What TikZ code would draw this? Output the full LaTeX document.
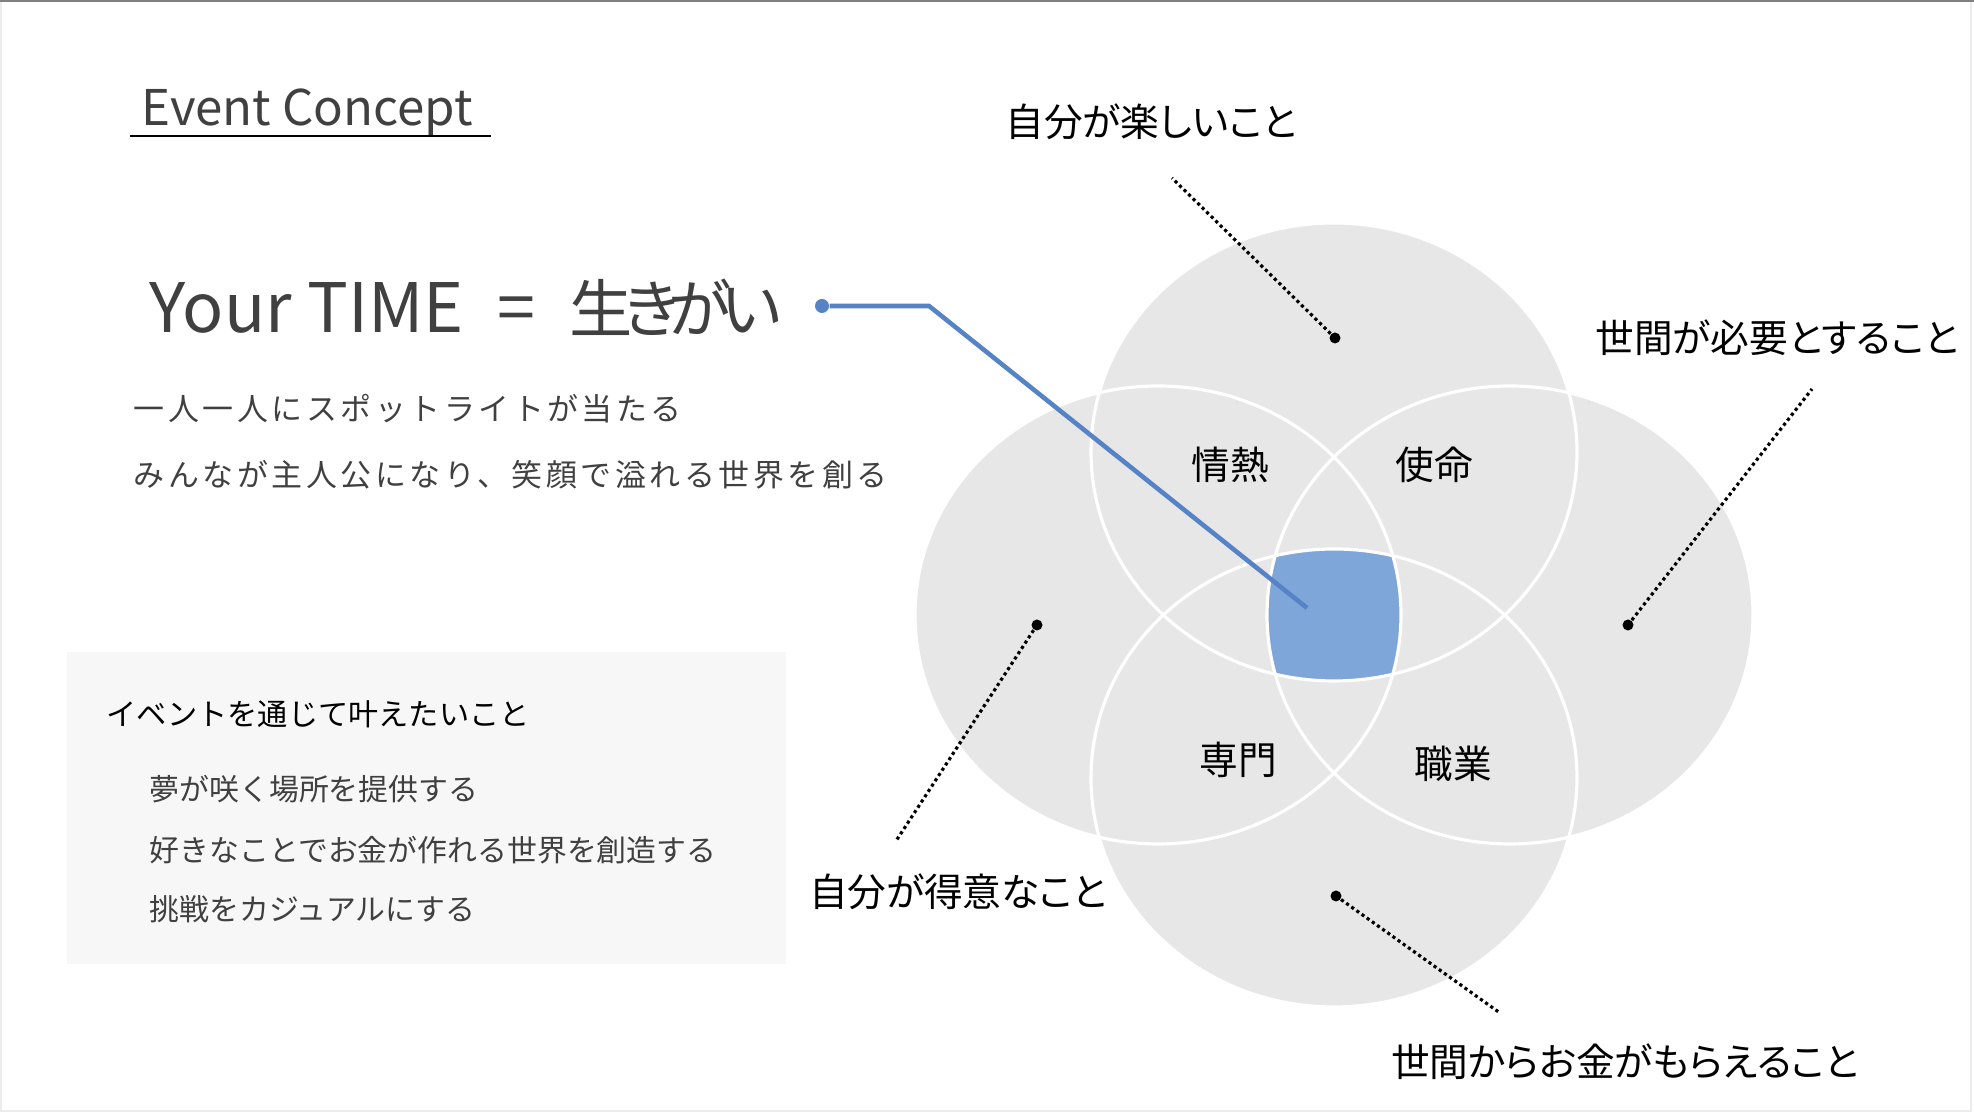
\documentclass[tikz,border=0pt]{standalone}
\usepackage{fontspec}
\setmainfont{Noto Sans CJK JP}
\newfontfamily\jpprop[RawFeature=+palt]{Noto Sans CJK JP}
\newfontfamily\jptight[RawFeature=+palt,LetterSpace=-15]{Noto Sans CJK JP}
\newfontfamily\jpspaced[LetterSpace=11.5]{Noto Sans CJK JP}
\usepackage{tikz}
\usetikzlibrary{calc}
\definecolor{petalgray}{RGB}{231,231,231}
\definecolor{boxgray}{RGB}{247,247,247}
\definecolor{framegray}{RGB}{236,236,236}
\definecolor{heartblue}{RGB}{127,166,216}
\definecolor{linkblue}{RGB}{86,131,198}
\definecolor{textgray}{RGB}{64,64,64}
\tikzstyle{petal}=[fill=petalgray]
\tikzstyle{petaledge}=[draw=white,line width=0.9pt]
\tikzstyle{titlenode}=[textgray,inner sep=0pt,font=\fontsize{14}{17}\selectfont]
\tikzstyle{slogannode}=[textgray,inner sep=0pt,font=\fontsize{19.4}{23}\selectfont]
\tikzstyle{bodynode}=[textgray,inner sep=0pt,font=\jpspaced\fontsize{8.8}{11}\selectfont]
\tikzstyle{wishhead}=[black,inner sep=0pt,font=\fontsize{8.6}{11}\selectfont]
\tikzstyle{wishnode}=[textgray,inner sep=0pt,font=\fontsize{8.5}{11}\selectfont]
\tikzstyle{outernode}=[black,inner sep=0pt,font=\jpprop\fontsize{11}{14}\selectfont]
\tikzstyle{innernode}=[black,inner sep=0pt,font=\fontsize{11}{13}\selectfont]
\tikzstyle{pindot}=[shape=circle,fill=black,inner sep=0pt,minimum size=1.1mm]
\tikzstyle{linkdot}=[shape=circle,fill=linkblue,inner sep=0pt,minimum size=1.4mm]
\tikzstyle{pinline}=[dash pattern=on 0.9pt off 0.9pt,line width=0.9pt,color=black]
\tikzstyle{bluearo}=[line width=1.3pt,color=linkblue]

\begin{document}
\begin{tikzpicture}

	% Frame
	\useasboundingbox (0, 0) rectangle (19.74, 11.12);
	\draw[color=framegray] (0.01, 0.01) rectangle (19.71, 11.11);
	\draw[line width=0.7pt, color=gray] (0, 11.11) -- (19.74, 11.11);

	% Concept
	\begin{scope}
	\node[titlenode, anchor = base west] (concept) at (1.41, 9.86) {Event Concept};
	\draw[line width=0.8pt] (1.30, 9.76) -- (4.91, 9.76);
	\node[slogannode, anchor = west] (slogan) at (1.49, 8.05) {Your TIME\hspace{0.34cm}=\hspace{0.34cm}{\jptight\fontsize{18}{22}\selectfont 生きがい}};
	\node[bodynode, anchor = west] (line1) at (1.33, 7.03) {一人一人にスポットライトが当たる};
	\node[bodynode, anchor = west] (line2) at ($(line1.west) + (0, -0.66)$) {みんなが主人公になり、笑顔で溢れる世界を創る};
	\end{scope}

	% Wishes
	\begin{scope}
	\fill[boxgray] (0.67, 1.48) rectangle (7.86, 4.60);
	\node[wishhead, anchor = west] (wishes) at (1.06, 3.98) {イベントを通じて叶えたいこと};
	\node[wishnode, anchor = west] (wish1) at (1.49, 3.23) {夢が咲く場所を提供する};
	\node[wishnode, anchor = west] (wish2) at ($(wish1.west) + (0, -0.61)$) {好きなことでお金が作れる世界を創造する};
	\node[wishnode, anchor = west] (wish3) at ($(wish2.west) + (0, -0.59)$) {挑戦をカジュアルにする};
	\end{scope}

	% Ikigai
	\begin{scope}
	\coordinate (ctop) at (13.34, 6.60);
	\coordinate (cbottom) at (13.34, 3.34);
	\coordinate (cleft) at (11.58, 4.97);
	\coordinate (cright) at (15.10, 4.97);
	\foreach \c in {ctop, cbottom, cleft, cright}
		\fill[petal] (\c) ellipse (2.43 and 2.29);
	\begin{scope}
	\clip (ctop) ellipse (2.43 and 2.29);
	\clip (cbottom) ellipse (2.43 and 2.29);
	\clip (cleft) ellipse (2.43 and 2.29);
	\clip (cright) ellipse (2.43 and 2.29);
	\fill[heartblue] (11, 3) rectangle (16, 7);
	\end{scope}
	\foreach \c in {ctop, cbottom, cleft, cright}
		\draw[petaledge] (\c) ellipse (2.43 and 2.29);
	\node[innernode] (passion) at (12.30, 6.47) {情熱};
	\node[innernode] (mission) at (14.34, 6.47) {使命};
	\node[innernode] (profession) at (12.38, 3.52) {専門};
	\node[innernode] (vocation) at (14.53, 3.48) {職業};
	\end{scope}

	% Pins
	\node[pindot] (ptop) at (13.35, 7.74) {};
	\coordinate (etop) at (11.72, 9.34);
	\draw[pinline] (ptop) -- (etop);
	\node[outernode] (love) at (11.51, 9.90) {自分が楽しいこと};
	\node[pindot] (pright) at (16.28, 4.87) {};
	\coordinate (eright) at (18.12, 7.23);
	\draw[pinline] (pright) -- (eright);
	\node[outernode] (need) at (17.77, 7.74) {世間が必要とすること};
	\node[pindot] (pleft) at (10.37, 4.87) {};
	\coordinate (eleft) at (8.96, 2.71);
	\draw[pinline] (pleft) -- (eleft);
	\node[outernode] (good) at (9.58, 2.20) {自分が得意なこと};
	\node[pindot] (pbottom) at (13.36, 2.16) {};
	\coordinate (ebottom) at (15.00, 0.99);
	\draw[pinline] (pbottom) -- (ebottom);
	\node[outernode] (paid) at (16.25, 0.50) {世間からお金がもらえること};

	% Link
	\node[linkdot] (ldot) at (8.22, 8.06) {};
	\coordinate (lbend) at (9.29, 8.06);
	\coordinate (lend) at (13.07, 5.04);
	\draw[bluearo] (ldot) -- (lbend) -- (lend);

\end{tikzpicture}
\end{document}
